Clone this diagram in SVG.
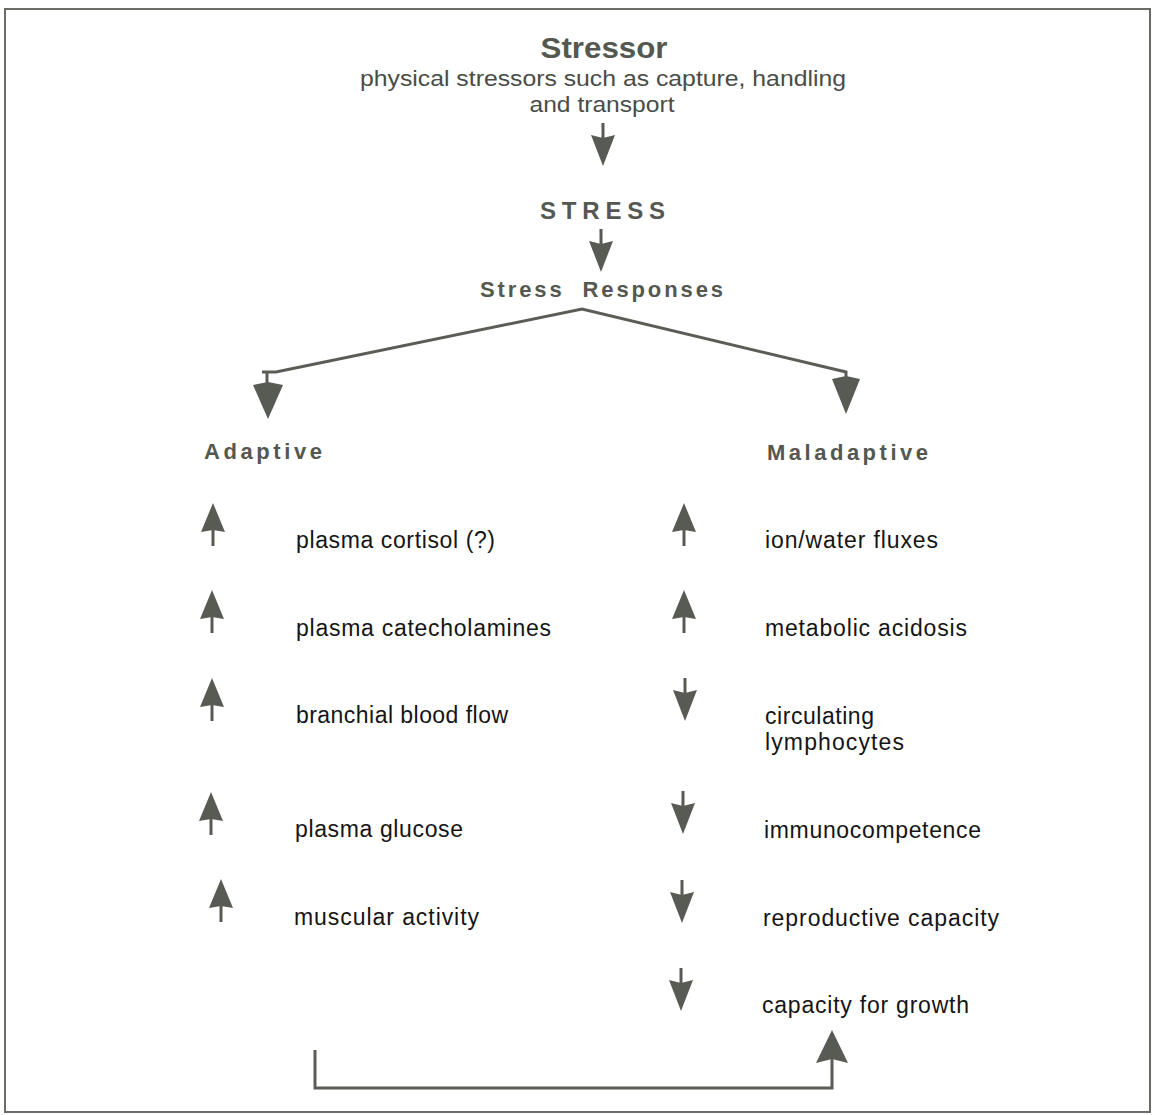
<svg xmlns="http://www.w3.org/2000/svg" xmlns:xlink="http://www.w3.org/1999/xlink" width="1153" height="1115" viewBox="0 0 1153 1115">
<style>
  .hd { font-family: "Liberation Sans", Arial, sans-serif; font-weight: bold; fill: #555850; }
  .tx { font-family: "Liberation Sans", Arial, sans-serif; font-size: 23px; fill: #151515; }
  .sub { font-family: "Liberation Sans", Arial, sans-serif; font-size: 22px; fill: #4a4c47; }
  .ln { fill: none; stroke: #5a5d55; stroke-width: 3; }
  .ar { fill: #585b53; }
</style>
<defs>
  <g id="up" class="ar">
    <path d="M0,0 L12,29 L0,27 L-12,29 Z"/>
    <rect x="-1.5" y="26" width="3" height="17"/>
  </g>
  <g id="down" class="ar">
    <path d="M0,0 L-12,-31 L0,-28 L12,-31 Z"/>
    <rect x="-1.5" y="-43" width="3" height="16"/>
  </g>
</defs>
<rect x="5" y="9" width="1145" height="1103" fill="none" stroke="#6a6c66" stroke-width="2"/>

<g id="stressor">
  <text class="hd" x="604" y="58" font-size="29" text-anchor="middle" textLength="127" lengthAdjust="spacingAndGlyphs">Stressor</text>
  <text class="sub" x="603" y="86" text-anchor="middle" textLength="486" lengthAdjust="spacingAndGlyphs">physical stressors such as capture, handling</text>
  <text class="sub" x="602" y="112" text-anchor="middle" textLength="145" lengthAdjust="spacingAndGlyphs">and transport</text>
</g>
<g id="stress">
  <text class="hd" x="540" y="219" font-size="24" textLength="125" lengthAdjust="spacing">STRESS</text>
</g>
<g id="responses">
  <text class="hd" x="480" y="297" font-size="22" textLength="243" lengthAdjust="spacing" xml:space="preserve">Stress  Responses</text>
</g>
<g id="adaptive">
  <text class="hd" x="204" y="459" font-size="22" textLength="118" lengthAdjust="spacing">Adaptive</text>
</g>
<g id="maladaptive">
  <text class="hd" x="767" y="460" font-size="22" textLength="161" lengthAdjust="spacing">Maladaptive</text>
</g>

<g id="adaptive-items">
  <use xlink:href="#up" x="213" y="503"/>
  <text class="tx" x="296" y="548" textLength="199" lengthAdjust="spacing">plasma cortisol (?)</text>
  <use xlink:href="#up" x="212" y="590"/>
  <text class="tx" x="296" y="636" textLength="255" lengthAdjust="spacing">plasma catecholamines</text>
  <use xlink:href="#up" x="212" y="678"/>
  <text class="tx" x="296" y="723" textLength="212" lengthAdjust="spacing">branchial blood flow</text>
  <use xlink:href="#up" x="211" y="792"/>
  <text class="tx" x="295" y="837" textLength="168" lengthAdjust="spacing">plasma glucose</text>
  <use xlink:href="#up" x="221" y="879"/>
  <text class="tx" x="294" y="925" textLength="185" lengthAdjust="spacing">muscular activity</text>
</g>

<g id="maladaptive-items">
  <use xlink:href="#up" x="684" y="503"/>
  <text class="tx" x="765" y="548" textLength="173" lengthAdjust="spacing">ion/water fluxes</text>
  <use xlink:href="#up" x="684" y="590"/>
  <text class="tx" x="765" y="636" textLength="202" lengthAdjust="spacing">metabolic acidosis</text>
  <use xlink:href="#down" x="685" y="721"/>
  <text class="tx" x="765" y="724" textLength="109" lengthAdjust="spacing">circulating</text>
  <text class="tx" x="765" y="750" textLength="139" lengthAdjust="spacing">lymphocytes</text>
  <use xlink:href="#down" x="683" y="834"/>
  <text class="tx" x="764" y="838" textLength="217" lengthAdjust="spacing">immunocompetence</text>
  <use xlink:href="#down" x="682" y="923"/>
  <text class="tx" x="763" y="926" textLength="236" lengthAdjust="spacing">reproductive capacity</text>
  <use xlink:href="#down" x="681" y="1011"/>
  <text class="tx" x="762" y="1013" textLength="207" lengthAdjust="spacing">capacity for growth</text>
</g>

<g id="connectors">
  <use xlink:href="#down" x="603" y="166"/>
  <use xlink:href="#down" x="601" y="272"/>
  <path class="ln" d="M262,372 H276 L582,309 L846,372 V382"/>
  <path class="ln" d="M267,372 V387"/>
  <path class="ar" d="M253,385 L268,382 L283,385 L268,419 Z"/>
  <path class="ar" d="M832,379 L846,376 L860,379 L846,414 Z"/>
  <path class="ln" d="M315,1050 V1088 H832 V1058"/>
  <path class="ar" d="M832,1030 L848,1063 L832,1059 L816,1063 Z"/>
</g>
</svg>
